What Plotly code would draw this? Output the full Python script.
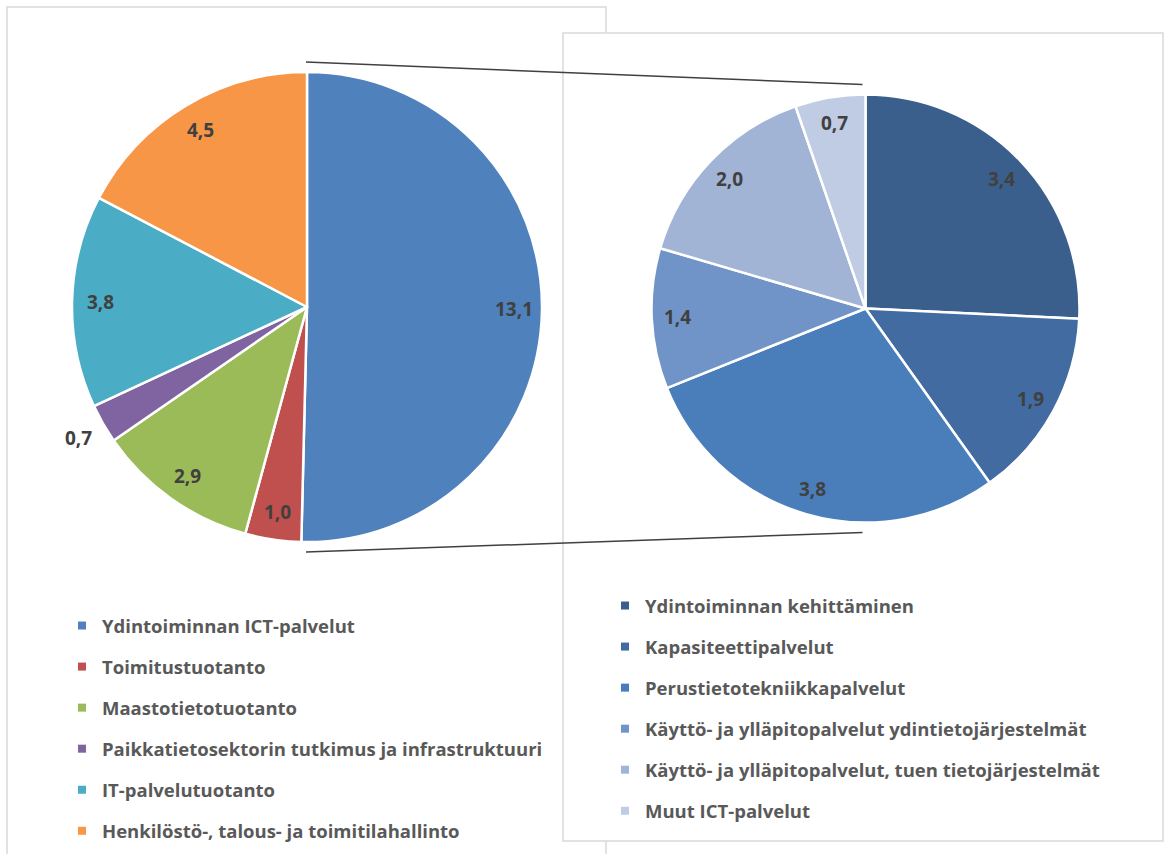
import plotly.graph_objects as go
import math

# main pie: costs by function (M€)
main_labels = ['Ydintoiminnan ICT-palvelut', 'Toimitustuotanto', 'Maastotietotuotanto',
               'Paikkatietosektorin tutkimus ja infrastruktuuri', 'IT-palvelutuotanto',
               'Henkilöstö-, talous- ja toimitilahallinto']
main_values = [13.1, 1.0, 2.9, 0.7, 3.8, 4.5]
main_colors = ['#4F81BD', '#C0504D', '#9BBB59', '#8064A2', '#4BACC6', '#F79646']

# secondary pie: breakdown of the ICT services
sub_labels = ['Ydintoiminnan kehittäminen', 'Kapasiteettipalvelut', 'Perustietotekniikkapalvelut',
              'Käyttö- ja ylläpitopalvelut ydintietojärjestelmät',
              'Käyttö- ja ylläpitopalvelut, tuen tietojärjestelmät', 'Muut ICT-palvelut']
sub_values = [3.4, 1.9, 3.8, 1.4, 2.0, 0.7]
sub_colors = ['#3A5F8C', '#416BA1', '#4A7EBB', '#7194C8', '#A1B4D6', '#C0CCE4']

W, H = 1164, 854
FONT = 'Open Sans'

# pie geometry in pixels (center x, center y, radius)
left_pie = (307, 307, 235)
right_pie = (865.5, 308.5, 214)


def px_x(x):
    return x / W


def px_y(y):
    return (H - y) / H


def domain(cx, cy, r):
    return dict(x=[px_x(cx - r), px_x(cx + r)], y=[px_y(cy + r), px_y(cy - r)])


def fmt(v):
    return f'{v:.1f}'.replace('.', ',')


fig = go.Figure()

for vals, labs, cols, geo in [(main_values, main_labels, main_colors, left_pie),
                              (sub_values, sub_labels, sub_colors, right_pie)]:
    fig.add_trace(go.Pie(values=vals, labels=labs, sort=False, direction='clockwise',
                         rotation=0, textinfo='none', hoverinfo='label+value',
                         marker=dict(colors=cols, line=dict(color='white', width=2.5)),
                         domain=domain(*geo), showlegend=False))

# legend entries (one group per entry so the rows can be spaced like the original)
for labs, cols, leg in [(main_labels, main_colors, 'legend'), (sub_labels, sub_colors, 'legend2')]:
    for lab, col in zip(labs, cols):
        fig.add_trace(go.Scatter(x=[None], y=[None], mode='markers', name=lab,
                                 marker=dict(symbol='square', size=8, color=col),
                                 legend=leg, legendgroup=lab))

# data labels, placed at the slice mid-angles
annotations = []
for vals, geo in [(main_values, left_pie), (sub_values, right_pie)]:
    cx, cy, r = geo
    total = sum(vals)
    cum = 0
    for v in vals:
        mid = (cum + v / 2) / total * 2 * math.pi
        cum += v
        rf = 1.12 if v / total < 0.03 else 0.88
        x = cx + r * rf * math.sin(mid)
        y = cy - r * rf * math.cos(mid)
        annotations.append(dict(x=px_x(x), y=px_y(y), xref='paper', yref='paper',
                                xanchor='center', yanchor='middle',
                                text=fmt(v), showarrow=False,
                                font=dict(family=FONT, size=19, color='#404040', weight='bold')))

# frames of the two chart areas and the connector lines
shapes = [
    dict(type='rect', xref='paper', yref='paper', x0=px_x(7), x1=px_x(606), y0=-0.05, y1=px_y(7),
         line=dict(color='#D9D9D9', width=1.5), fillcolor='white', layer='below'),
    dict(type='rect', xref='paper', yref='paper', x0=px_x(563), x1=px_x(1163), y0=px_y(841), y1=px_y(33),
         line=dict(color='#D9D9D9', width=1.5), fillcolor='white', layer='below'),
]
lcx, lcy, lr = left_pie
rcx, rcy, rr = right_pie
for sgn in (-1, 1):
    shapes.append(dict(type='line', xref='paper', yref='paper',
                       x0=px_x(lcx - 1), y0=px_y(lcy + sgn * (lr + 10)),
                       x1=px_x(rcx - 3), y1=px_y(rcy + sgn * (rr + 10)),
                       line=dict(color='#404040', width=1.5), layer='above'))

legend_style = dict(font=dict(family=FONT, size=18.5, color='#595959', weight='bold'),
                    tracegroupgap=14, bgcolor='rgba(0,0,0,0)', xanchor='left', yanchor='top',
                    itemclick=False)

fig.update_layout(
    width=W, height=H,
    margin=dict(l=0, r=0, t=0, b=0),
    paper_bgcolor='white', plot_bgcolor='rgba(0,0,0,0)',
    xaxis=dict(visible=False), yaxis=dict(visible=False),
    shapes=shapes, annotations=annotations,
    legend=dict(x=px_x(62), y=px_y(607), **legend_style),
    legend2=dict(x=px_x(605), y=px_y(587), **legend_style),
)

fig.write_html('out.html', config={'displayModeBar': False},
               post_script="document.body.style.margin = '0';")
